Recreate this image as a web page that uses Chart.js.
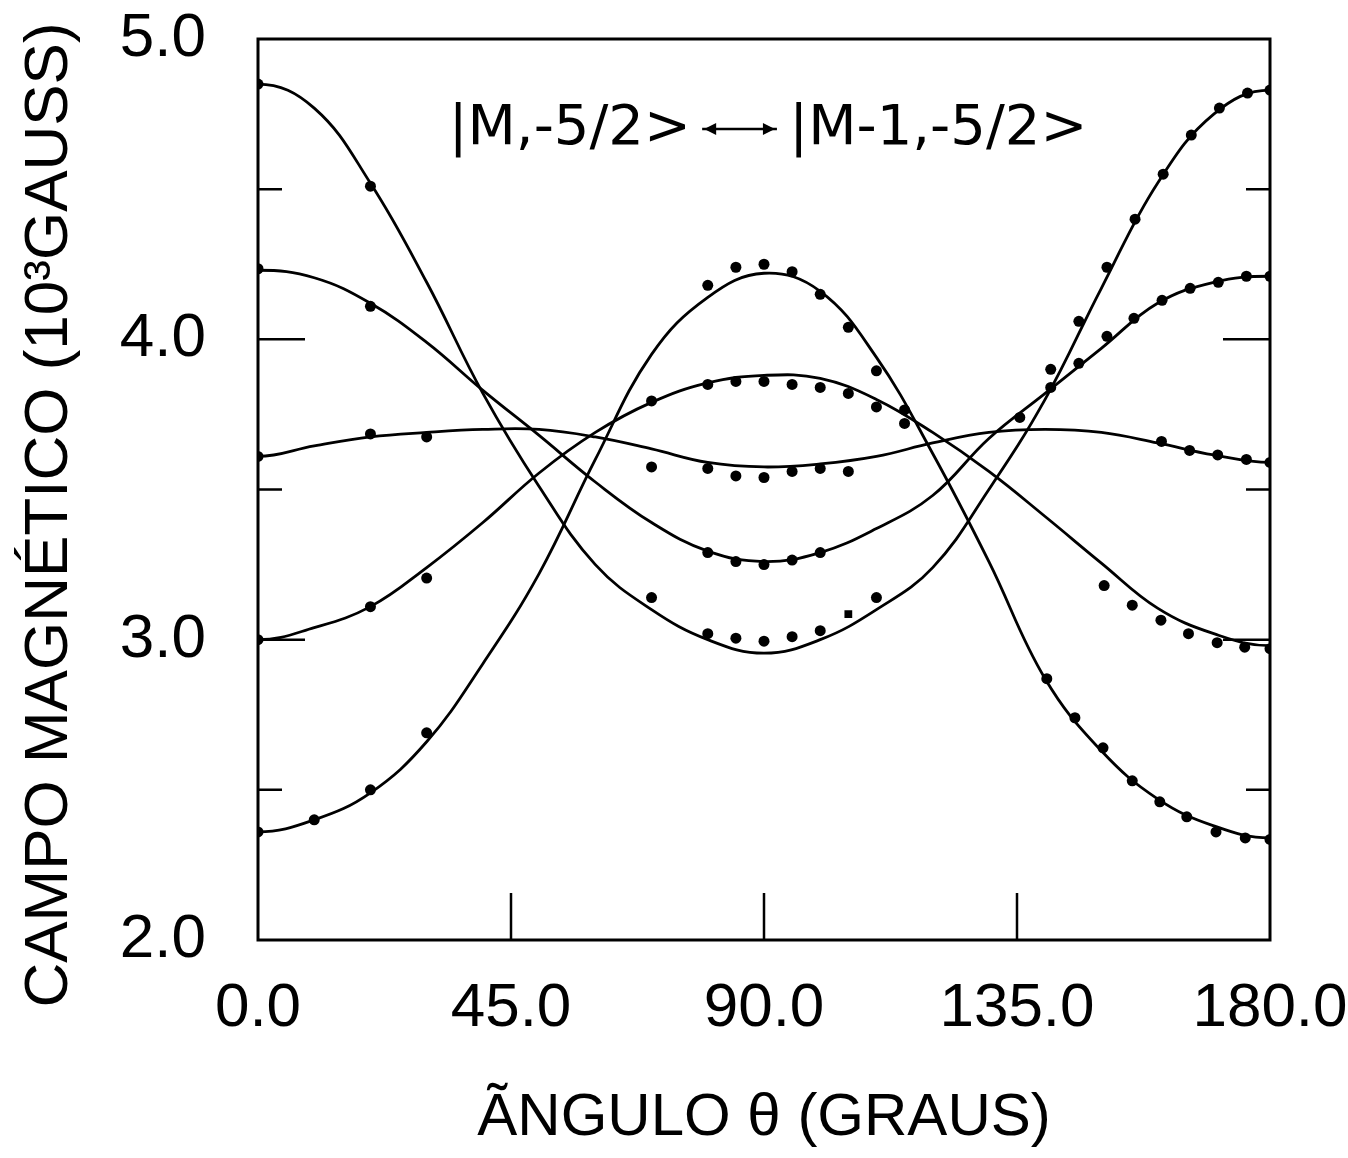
<!DOCTYPE html>
<html lang="pt">
<head>
<meta charset="UTF-8">
<title>Campo magnético em função do ângulo</title>
<script src="https://cdn.jsdelivr.net/npm/chart.js"></script>
<style>
    body { margin: 0; background: #fff; }
</style>
</head>
<body>
<canvas id="chart" width="1348" height="1158"></canvas>
<script>
// fitted curves, read every 10 degrees
const fitAngles = [0, 10, 20, 30, 40, 50, 60, 70, 80, 90, 100, 110, 120, 130, 140, 150, 160, 170, 180];
const fitA = [4.85, 4.77, 4.52, 4.19, 3.82, 3.51, 3.25, 3.10, 3.00, 2.955, 3.00, 3.10, 3.24, 3.50, 3.80, 4.17, 4.52, 4.75, 4.83];
const fitB = [4.23, 4.205, 4.12, 3.99, 3.83, 3.68, 3.525, 3.39, 3.295, 3.26, 3.29, 3.37, 3.48, 3.67, 3.82, 3.97, 4.12, 4.19, 4.21];
const fitC = [3.61, 3.645, 3.675, 3.69, 3.70, 3.70, 3.675, 3.635, 3.59, 3.575, 3.585, 3.61, 3.655, 3.69, 3.70, 3.69, 3.655, 3.615, 3.59];
const fitD = [3.00, 3.04, 3.11, 3.24, 3.39, 3.555, 3.69, 3.79, 3.855, 3.88, 3.87, 3.80, 3.69, 3.56, 3.41, 3.255, 3.105, 3.02, 2.98];
const fitE = [2.36, 2.40, 2.49, 2.66, 2.92, 3.22, 3.60, 3.95, 4.14, 4.22, 4.16, 3.94, 3.62, 3.26, 2.87, 2.63, 2.47, 2.38, 2.34];

// measured points
const ptAngA = [0, 20, 70, 80, 85, 90, 95, 100, 105, 110, 141, 146, 151, 156, 161, 166, 171, 176, 180];
const ptValA = [4.85, 4.51, 3.14, 3.02, 3.005, 2.995, 3.01, 3.03, 3.085, 3.14, 3.90, 4.06, 4.24, 4.40, 4.55, 4.68, 4.77, 4.82, 4.83];
const ptAngB = [0, 20, 80, 85, 90, 95, 100, 135.5, 141, 146, 151, 155.8, 160.8, 165.8, 170.8, 175.8, 180];
const ptValB = [4.235, 4.11, 3.29, 3.26, 3.25, 3.265, 3.29, 3.74, 3.84, 3.92, 4.01, 4.07, 4.13, 4.17, 4.19, 4.21, 4.21];
const ptAngC = [0, 20, 30, 70, 80, 85, 90, 95, 100, 105, 160.7, 165.7, 170.7, 175.8, 180];
const ptValC = [3.61, 3.685, 3.675, 3.575, 3.57, 3.545, 3.54, 3.56, 3.57, 3.56, 3.66, 3.63, 3.615, 3.60, 3.59];
const ptAngD = [0, 20, 30, 70, 80, 85, 90, 95, 100, 105, 110, 115, 150.5, 155.5, 160.6, 165.5, 170.6, 175.5, 180];
const ptValD = [3.00, 3.11, 3.205, 3.795, 3.85, 3.86, 3.86, 3.85, 3.84, 3.82, 3.775, 3.72, 3.18, 3.115, 3.065, 3.02, 2.99, 2.975, 2.97];
const ptAngE = [0, 10, 20, 30, 80, 85, 90, 95, 100, 105, 110, 115, 140.3, 145.3, 150.3, 155.5, 160.4, 165.2, 170.4, 175.6, 180];
const ptValE = [2.36, 2.40, 2.50, 2.69, 4.18, 4.24, 4.25, 4.225, 4.15, 4.04, 3.895, 3.765, 2.87, 2.74, 2.64, 2.53, 2.46, 2.41, 2.36, 2.34, 2.335];

const xTicks = [0, 45, 90, 135, 180];
const yMajorTicks = [3, 4];
const yMinorTicks = [2.5, 3.5, 4.5];
const xMajorTicks = [45, 90, 135];

const FONT = '"Liberation Sans", Arial, sans-serif';
const yTitle = 'CAMPO MAGNÉTICO (10³GAUSS)';

function pairs(xs, ys) {
    return xs.map((x, i) => ({ x: x, y: ys[i] }));
}

function fitSet(vals) {
    const n = fitAngles.length;
    // the curves are even about 0 and 180 deg: one mirrored reading past each end
    // (clipped away) keeps the spline flat at the axes
    const data = [{ x: -fitAngles[1], y: vals[1] }]
        .concat(pairs(fitAngles, vals))
        .concat([{ x: 360 - fitAngles[n - 2], y: vals[n - 2] }]);
    return {
        type: 'line',
        data: data,
        borderColor: '#000',
        borderWidth: 2.8,
        pointRadius: 0,
        fill: false,
        tension: 0.4
    };
}

function pointSet(xs, ys, styles) {
    return {
        type: 'scatter',
        data: pairs(xs, ys),
        backgroundColor: '#000',
        borderColor: '#000',
        borderWidth: 0,
        pointRadius: 5.5,
        pointStyle: styles || 'circle'
    };
}

// point at 105 deg on the lowest branch is drawn as a square
const stylesA = ptAngA.map(a => a === 105 ? 'rect' : 'circle');

// frame, inward tick marks, y title and the transition label
const framePlugin = {
    id: 'framePlugin',
    afterDatasetsDraw(chart) {
        const { ctx, chartArea: a, scales: { x, y } } = chart;
        ctx.save();
        ctx.strokeStyle = '#000';
        ctx.fillStyle = '#000';
        ctx.lineWidth = 3;
        ctx.strokeRect(a.left, a.top, a.right - a.left, a.bottom - a.top);

        ctx.lineWidth = 2.5;
        ctx.beginPath();
        yMajorTicks.forEach(v => {
            const py = y.getPixelForValue(v);
            ctx.moveTo(a.left, py); ctx.lineTo(a.left + 47, py);
            ctx.moveTo(a.right, py); ctx.lineTo(a.right - 47, py);
        });
        yMinorTicks.forEach(v => {
            const py = y.getPixelForValue(v);
            ctx.moveTo(a.left, py); ctx.lineTo(a.left + 24, py);
            ctx.moveTo(a.right, py); ctx.lineTo(a.right - 24, py);
        });
        xMajorTicks.forEach(v => {
            const px = x.getPixelForValue(v);
            ctx.moveTo(px, a.bottom); ctx.lineTo(px, a.bottom - 47);
        });
        ctx.stroke();

        // y axis title, a bit below the axis centre as in the original
        ctx.save();
        ctx.translate(50, 515);
        ctx.rotate(-Math.PI / 2);
        ctx.font = '62px ' + FONT;
        ctx.textAlign = 'center';
        ctx.textBaseline = 'middle';
        ctx.fillText(yTitle, 0, 0);
        ctx.restore();

        // |M,-5/2> <-> |M-1,-5/2>
        const ly = y.getPixelForValue(4.70);
        ctx.font = '56px "DejaVu Sans", sans-serif';
        ctx.textBaseline = 'middle';
        ctx.textAlign = 'right';
        ctx.fillText('|M,-5/2>', x.getPixelForValue(77), ly);
        ctx.textAlign = 'left';
        ctx.fillText('|M-1,-5/2>', x.getPixelForValue(94.5), ly);

        const x1 = x.getPixelForValue(79), x2 = x.getPixelForValue(92.3);
        ctx.lineWidth = 2.5;
        ctx.beginPath();
        ctx.moveTo(x1, ly); ctx.lineTo(x2, ly);
        ctx.stroke();
        ctx.beginPath();
        ctx.moveTo(x1 + 14, ly - 6); ctx.lineTo(x1 + 2, ly); ctx.lineTo(x1 + 14, ly + 6);
        ctx.closePath();
        ctx.moveTo(x2 - 14, ly - 6); ctx.lineTo(x2 - 2, ly); ctx.lineTo(x2 - 14, ly + 6);
        ctx.closePath();
        ctx.fill();
        ctx.restore();
    }
};

new Chart(document.getElementById('chart'), {
    data: {
        datasets: [
            fitSet(fitA), fitSet(fitB), fitSet(fitC), fitSet(fitD), fitSet(fitE),
            pointSet(ptAngA, ptValA, stylesA),
            pointSet(ptAngB, ptValB),
            pointSet(ptAngC, ptValC),
            pointSet(ptAngD, ptValD),
            pointSet(ptAngE, ptValE)
        ]
    },
    options: {
        responsive: false,
        animation: false,
        layout: { padding: { top: 39, right: 78, left: 0, bottom: 0 } },
        plugins: { legend: { display: false }, tooltip: { enabled: false } },
        scales: {
            x: {
                type: 'linear',
                min: 0,
                max: 180,
                afterFit(s) {
                    s.height = 218;
                    s.paddingLeft = 0;
                    s.paddingRight = 0;
                },
                afterBuildTicks(s) { s.ticks = xTicks.map(v => ({ value: v })); },
                grid: { display: false, drawTicks: false },
                border: { display: false },
                ticks: {
                    color: '#000',
                    padding: 32,
                    maxRotation: 0,
                    autoSkip: false,
                    font: { family: FONT, size: 62 },
                    callback: v => v.toFixed(1)
                },
                title: {
                    display: true,
                    text: 'ÃNGULO θ (GRAUS)',
                    color: '#000',
                    font: { family: FONT, size: 60, lineHeight: 1 },
                    padding: { top: 0, bottom: 10 }
                }
            },
            y: {
                type: 'linear',
                min: 2,
                max: 5,
                afterFit(s) {
                    s.width = 258;
                    s.paddingTop = 0;
                    s.paddingBottom = 0;
                },
                grid: { display: false, drawTicks: false },
                border: { display: false },
                ticks: {
                    stepSize: 1,
                    color: '#000',
                    padding: 52,
                    font: { family: FONT, size: 62 },
                    callback: v => v.toFixed(1)
                },
                title: { display: false }
            }
        }
    },
    plugins: [framePlugin]
});
</script>
</body>
</html>
